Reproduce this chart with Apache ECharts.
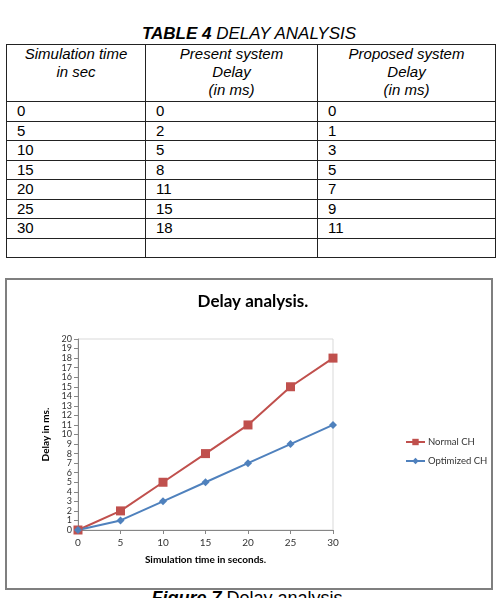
<!DOCTYPE html>
<html>
<head>
<meta charset="utf-8">
<script src="https://cdn.jsdelivr.net/npm/echarts@6/dist/echarts.min.js"></script>
<style>
  body { margin: 0; background: #fff; width: 498px; height: 598px; overflow: hidden; position: relative; font-family: "Liberation Sans", Arial, sans-serif; }
  #tblTitle { position: absolute; left: 0; width: 498px; top: 24px; text-align: center; font-size: 17px; font-style: italic; color: #000; }
  #tbl { position: absolute; left: 6px; top: 44px; width: 486px; table-layout: fixed; border-collapse: collapse; font-size: 15px; color: #000; }
  #tbl td, #tbl th { border: 1px solid #222; padding: 0 0 0 10px; height: 18.5px; line-height: 18px; text-align: left; font-weight: normal; overflow: hidden; white-space: nowrap; }
  #tbl th { font-style: italic; text-align: center; vertical-align: top; height: 56px; padding: 0; }
  #chart { position: absolute; left: 5px; top: 278px; width: 488px; height: 312px; border: 2px solid #7f7f7f; box-sizing: border-box; }
  #caption { position: absolute; left: 0; width: 494px; top: 588px; text-align: center; font-size: 18px; line-height: 20px; color: #000; }
</style>
</head>
<body>
<div id="tblTitle"><b>TABLE 4</b> DELAY ANALYSIS</div>
<table id="tbl"></table>
<div id="chart"></div>
<div id="caption"><b><i>Figure 7</i></b> Delay analysis</div>
<script>
// 数据
var simTime = [0, 5, 10, 15, 20, 25, 30];
var normalCH = [0, 2, 5, 8, 11, 15, 18];      // Present system
var optimizedCH = [0, 1, 3, 5, 7, 9, 11];     // Proposed system
var tableHeaders = ['Simulation time<br>in sec', 'Present system<br>Delay<br>(in ms)', 'Proposed system<br>Delay<br>(in ms)'];
var colWidths = [138, 171, 177];

// 表格
var html = '<tr>';
for (var i = 0; i < tableHeaders.length; i++) {
    html += '<th style="width:' + colWidths[i] + 'px">' + tableHeaders[i] + '</th>';
}
html += '</tr>';
for (var r = 0; r < simTime.length; r++) {
    html += '<tr><td>' + simTime[r] + '</td><td>' + normalCH[r] + '</td><td>' + optimizedCH[r] + '</td></tr>';
}
html += '<tr><td></td><td></td><td></td></tr>';
document.getElementById('tbl').innerHTML = html;

// 图表
var chart = echarts.init(document.getElementById('chart'));
var font = 'Lato, "Open Sans", sans-serif';
var option = {
    animation: false,
    title: {
        text: 'Delay analysis.',
        left: 241, top: 8, textAlign: 'center',
        textStyle: { fontFamily: font, fontSize: 17, fontWeight: 'bold', color: '#000' }
    },
    legend: {
        orient: 'vertical',
        left: 393, top: 152,
        itemWidth: 19, itemHeight: 8, itemGap: 9,
        textStyle: { fontFamily: font, fontSize: 9.5, color: '#333', padding: [0, 0, 0, -2] },
        data: ['Normal CH', 'Optimized CH']
    },
    grid: {
        left: 71, top: 59, width: 255, height: 191,
        show: true, borderColor: '#d9d9d9', borderWidth: 1
    },
    xAxis: {
        type: 'value', min: 0, max: 30, interval: 5,
        name: 'Simulation time in seconds.', nameLocation: 'middle', nameGap: 25,
        nameTextStyle: { fontFamily: font, fontSize: 10, fontWeight: 'bold', color: '#000' },
        axisLine: { show: true, lineStyle: { color: '#868686' } },
        axisTick: { show: true, length: 4, lineStyle: { color: '#868686' } },
        axisLabel: { fontFamily: font, fontSize: 10, color: '#333', margin: 8 },
        splitLine: { show: false }
    },
    yAxis: {
        type: 'value', min: 0, max: 20, interval: 1,
        name: 'Delay in ms.', nameLocation: 'middle', nameGap: 22, nameRotate: 90,
        nameTextStyle: { fontFamily: font, fontSize: 10, fontWeight: 'bold', color: '#000' },
        axisLine: { show: true, lineStyle: { color: '#868686' } },
        axisTick: { show: true, length: 4, lineStyle: { color: '#868686' } },
        axisLabel: { fontFamily: font, fontSize: 9, lineHeight: 9, color: '#333', margin: 6 },
        splitLine: { show: false }
    },
    series: [
        {
            name: 'Normal CH', type: 'line',
            data: simTime.map(function (t, i) { return [t, normalCH[i]]; }),
            symbol: 'rect', symbolSize: 9,
            lineStyle: { color: '#C0504D', width: 2 },
            itemStyle: { color: '#C0504D' }
        },
        {
            name: 'Optimized CH', type: 'line',
            data: simTime.map(function (t, i) { return [t, optimizedCH[i]]; }),
            symbol: 'diamond', symbolSize: 8,
            lineStyle: { color: '#4F81BD', width: 2 },
            itemStyle: { color: '#4F81BD' }
        }
    ]
};
chart.setOption(option);
</script>
</body>
</html>
